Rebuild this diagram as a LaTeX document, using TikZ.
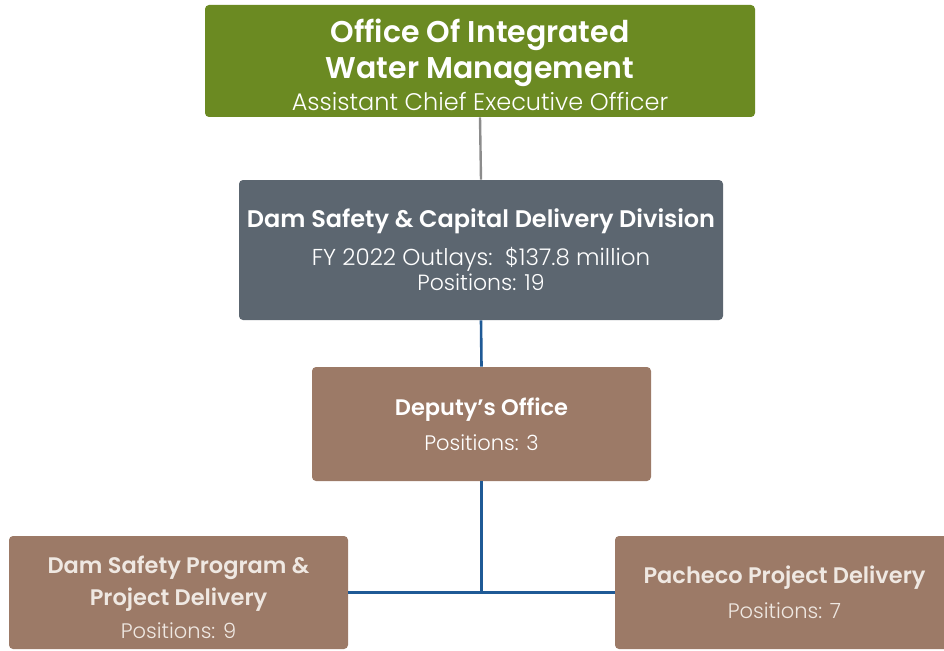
\documentclass[tikz,border=0pt]{standalone}
\usepackage{fontspec}
\setmainfont{Poppins}[UprightFont=* Light, BoldFont=* SemiBold]
\usepackage{tikz}
\usetikzlibrary{positioning}

\definecolor{iwmGreen}{HTML}{6B8A22}
\definecolor{divGrey}{HTML}{5C6670}
\definecolor{unitBrown}{HTML}{9C7A67}
\definecolor{linkBlue}{HTML}{1F5A96}
\definecolor{linkGrey}{HTML}{8C8C8C}
\definecolor{paleText}{HTML}{EFE8E2}
\newcommand{\hd}[1]{\fontsize{#1}{#1}\selectfont\bfseries}
\newcommand{\sub}[1]{\fontsize{#1}{#1}\selectfont\mdseries}

\begin{document}
\begin{tikzpicture}[x=1pt, y=-1pt, thick, inner sep=0pt, draw=black]
			\tikzset{box/.style={rounded corners=4pt,text=white,align=center},
				link/.style={line width=2.6pt,draw=linkBlue}}
			% Colors: green, grey, brown, blue...
			\useasboundingbox (0,0) rectangle (944,650);
			\clip (0,0) rectangle (944,650);

			% Boxes
			\node[box, fill=iwmGreen, minimum width=550pt, minimum height=112pt] (iwm) at (480,61)
				{\hd{30}\rule{0pt}{31pt}Office Of Integrated\\[6pt]\hd{30}Water Management\\[5pt]\sub{24}Assistant Chief Executive Officer};
			\node[box, fill=divGrey, minimum width=484pt, minimum height=140pt] (div) at (481,250)
				{\hd{24}Dam Safety \& Capital Delivery Division\\[12pt]\sub{23}FY 2022 Outlays:\ \ \$137.8 million\\[2pt]\sub{22}Positions: 19};
			\node[box, fill=unitBrown, minimum width=339pt, minimum height=114pt] (dep) at (481.5,424)
				{\hd{22.5}Deputy’s Office\\[12pt]\sub{21}Positions: 3};
			\node[box, fill=unitBrown, text=paleText, minimum width=339pt, minimum height=113pt] (dsp) at (178.5,592.5)
				{\hd{22.5}\rule{0pt}{27pt}Dam Safety Program \&\\[7.5pt]\hd{22.5}Project Delivery\\[10pt]\sub{21}Positions: 9};
			\node[box, fill=unitBrown, text=paleText, minimum width=339pt, minimum height=113pt] (pac) at (784.5,592.5)
				{\hd{22.5}Pacheco Project Delivery\\[12pt]\sub{21}Positions: 7};

			% Connectors
			\draw[line width=2.4pt, linkGrey] (iwm.south) -- (div.north);
			\draw[link] (div.south) -- (dep.north);
			\draw[link] (dep.south) -- (dep.south |- dsp.east);
			\draw[link] (dsp.east) -- (pac.west);
	\end{tikzpicture}
\end{document}
